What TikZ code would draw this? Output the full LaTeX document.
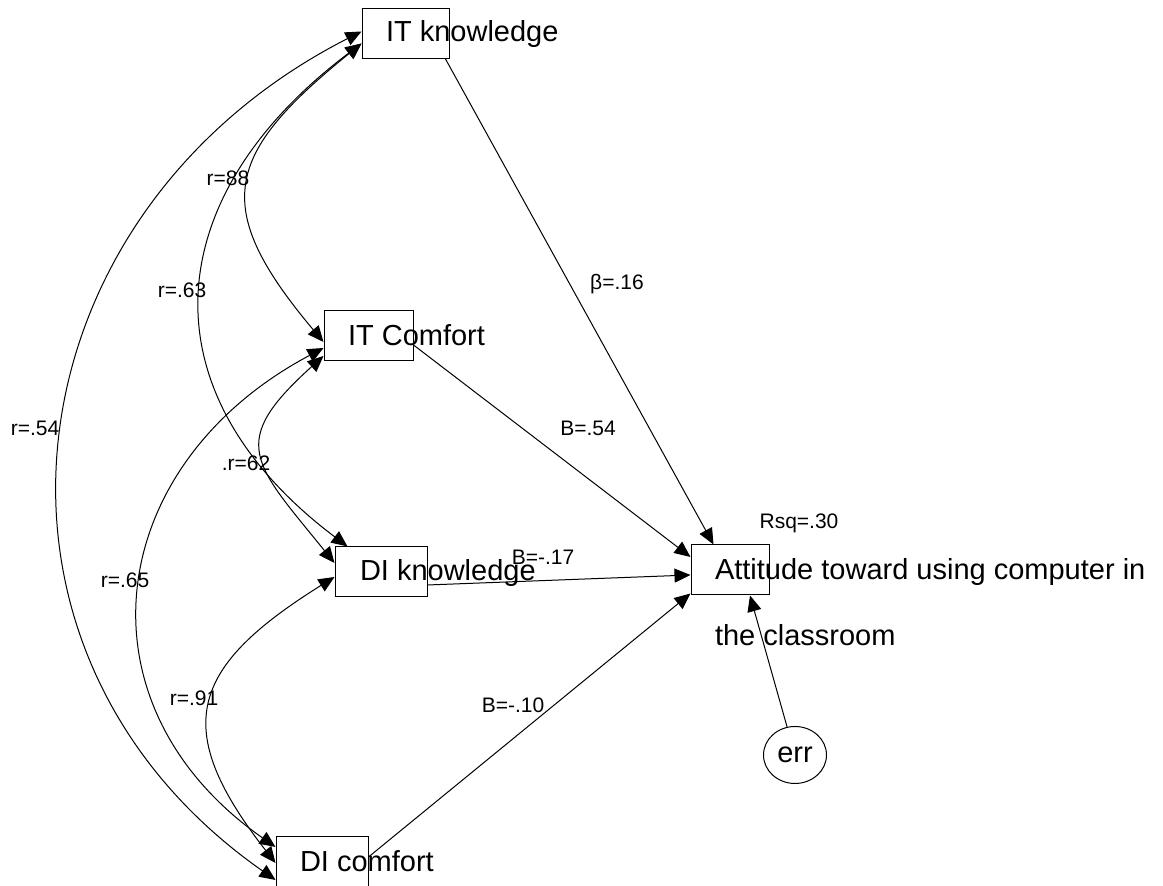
\documentclass[tikz,border=0pt]{standalone}
\usepackage{fontspec}
\setmainfont{Liberation Sans}
\usepackage{tikz}
\usetikzlibrary{shapes.geometric, arrows.meta, positioning, calc}

\begin{document}
\begin{tikzpicture}[x=0.5pt, y=0.5pt, line width=0.5pt,
  >={Triangle[length=8pt,width=7pt]},
  varbox/.style={draw, rectangle, minimum height=25pt, inner sep=0pt},
  vartext/.style={anchor=base west, inner sep=0pt, font=\fontsize{14.5}{17}\selectfont},
  coef/.style={inner sep=0pt, font=\fontsize{10.5}{12}\selectfont}]
\useasboundingbox (0,0) rectangle (1163,886);

% Observed variables
\node[varbox, minimum width=43.5pt] (itk) at (405.5,852.5) {};
\node[varbox, minimum width=44.5pt] (itc) at (368.5,550) {};
\node[varbox, minimum width=46pt] (dik) at (381,314) {};
\node[varbox, minimum width=46pt] (dic) at (322,24) {};
\node[varbox, minimum width=39pt] (att) at (730,316) {};
\node[draw, ellipse, minimum width=31.5pt, minimum height=28.5pt, inner sep=0pt,
  font=\fontsize{14.5}{17}\selectfont] (err) at (795,131) {err};

% Variable names (text runs past the boxes)
\node[vartext] (itkname) at ([xshift=12pt,yshift=-4.25pt]itk.west) {IT knowledge};
\node[vartext] (itcname) at ([xshift=12pt,yshift=-4.75pt]itc.west) {IT Comfort};
\node[vartext] (dikname) at ([xshift=12.5pt,yshift=-4.5pt]dik.west) {DI knowledge};
\node[vartext] (dicname) at ([xshift=12pt,yshift=-4.75pt]dic.west) {DI comfort};
\node[vartext] (attname) at ([xshift=12pt,yshift=-5pt]att.west) {Attitude toward using computer in};
\node[vartext] (attname2) at ([yshift=-32.85pt]attname.base west) {the classroom};

% Correlations
\draw[<->] ([yshift=1pt]itk.west) to[out=207, in=145, looseness=1.2] ([yshift=-9pt]dic.west);
\draw[<->] ([yshift=-5pt]itk.west) to[out=217, in=143, looseness=1.3] ([xshift=6.5pt]dik.north west);
\draw[<->] ([yshift=-5pt]itk.west) to[out=219, in=130, looseness=1.5] ([yshift=-3pt]itc.west);
\draw[<->] ([yshift=-10pt]itc.west) to[out=222, in=129, looseness=1.6] ([yshift=4.5pt]dik.west);
\draw[<->] ([yshift=-6pt]itc.west) to[out=208, in=145, looseness=1.27] ([yshift=7.5pt]dic.west);
\draw[<->] ([yshift=-2.5pt]dik.west) to[out=212, in=128, looseness=1.5] ([yshift=-0.5pt]dic.west);

% Paths to attitude
\draw[->] ([xshift=-2pt]itk.south east) -- ([xshift=11.5pt]att.north west);
\draw[->] ([yshift=-4.5pt]itc.east) -- ([yshift=6.5pt]att.west);
\draw[->] ([yshift=-6.5pt]dik.east) -- ([yshift=-2.5pt]att.west);
\draw[->] ([yshift=2.5pt]dic.east) -- ([yshift=1pt]att.south west);
\draw[->] (err) -- ([xshift=10pt]att.south);

% Coefficients
\node[coef] (r88) at (228,708) {r=88};
\node[coef] (r63) at (182,596) {r=.63};
\node[coef] (r54) at (35,458) {r=.54};
\node[coef] (r62) at (246,423) {.r=62};
\node[coef] (r65) at (125,306) {r=.65};
\node[coef] (r91) at (194,188) {r=.91};
\node[coef] (b16) at (617,602) {β=.16};
\node[coef] (b54) at (588,458) {B=.54};
\node[coef] (b17) at (543,329) {B=-.17};
\node[coef] (b10) at (513,181) {B=-.10};
\node[coef] (rsq) at (799,363) {Rsq=.30};
\end{tikzpicture}
\end{document}
